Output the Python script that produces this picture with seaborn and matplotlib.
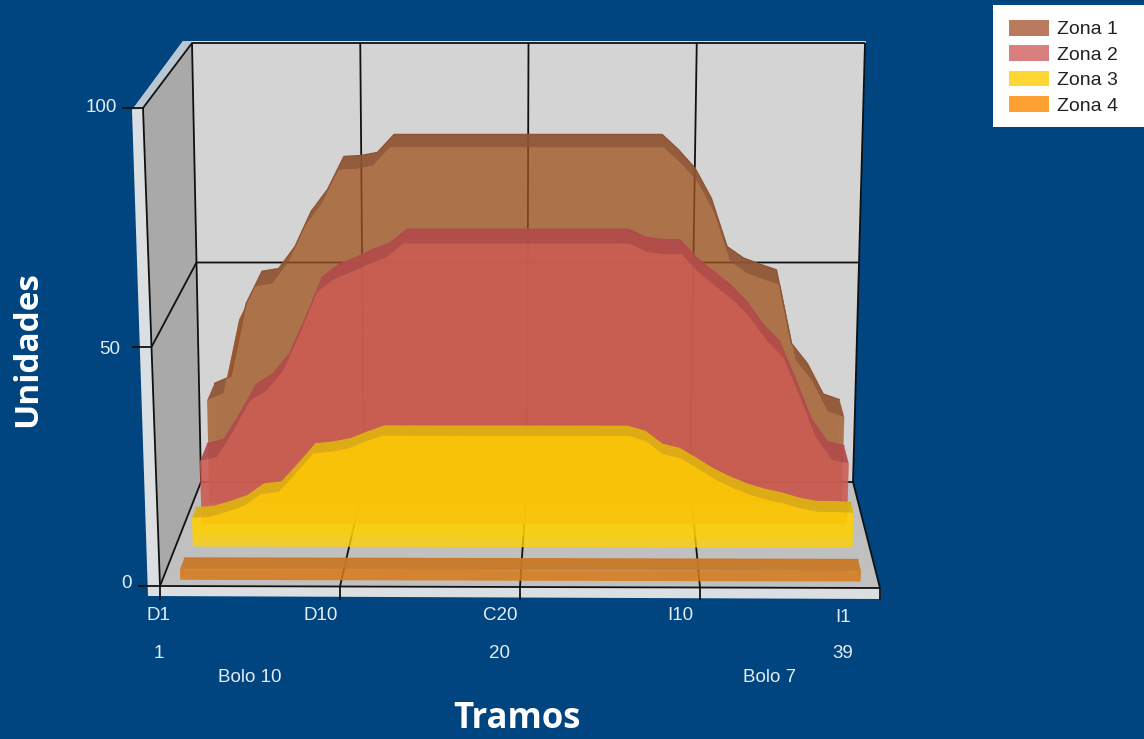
import numpy as np
import pandas as pd
import seaborn as sns
import matplotlib.pyplot as plt
from matplotlib.patches import Patch, Polygon, Rectangle

# values per tramo
tramos = list(range(1, 40))
zona_1 = [22.9, 24.5, 41, 48.4, 49, 54, 62, 67, 74.5, 74.7, 75.4, 79.5, 79.5, 79.5, 79.5, 79.5, 79.5, 79.5, 79.5, 79.5,
          79.5, 79.5, 79.5, 79.5, 79.5, 79.5, 79.5, 79.5, 76, 71.8, 65, 54, 51.4, 50, 48.7, 32, 27.4, 20.5, 19.2]
zona_2 = [13.7, 14.6, 20.4, 27, 29.3, 33.8, 42, 50.9, 53.8, 55.3, 57.1, 58.5, 61.6, 61.6, 61.6, 61.6, 61.6, 61.6, 61.6, 61.6,
          61.6, 61.6, 61.6, 61.6, 61.6, 61.6, 59.8, 59.3, 59.3, 55.3, 52.2, 49.3, 45.5, 40.4, 36.6, 28.2, 19.3, 14.2, 13.3]
zona_3 = [6.2, 6.4, 7.5, 8.8, 11.4, 11.8, 15.8, 20.1, 20.5, 21.2, 22.7, 24, 24, 24, 24, 24, 24, 24, 24, 24,
          24, 24, 24, 24, 24, 24, 22.9, 20.1, 19.2, 17, 14.7, 12.9, 11.4, 10.3, 9.5, 8.4, 7.7, 7.7, 7.5]
zona_4 = [2.2] * 39
zonas = ["Zona 1", "Zona 2", "Zona 3", "Zona 4"]
series = [zona_1, zona_2, zona_3, zona_4]
y_ticks = [0, 50, 100]
x_grid = [10, 20, 30]

navy = "#004480"
colores = ["#a0541f", "#cc5c54", "#ffd000", "#d87a18"]
leyenda = ["#b97a5e", "#d97f7f", "#ffd633", "#ffa033"]
techos = ["#8f5434", "#b04c4a", "#dcae14", "#c87a28"]
alphas = [0.62, 0.82, 0.78, 0.85]
# front and back depth of each zone on the floor
prof = [(0.80, 0.98), (0.60, 0.78), (0.38, 0.48), (0.06, 0.17)]

sns.set_theme(style="white")
plt.rcParams["font.family"] = ["Liberation Sans", "DejaVu Sans"]


def project(pos, value, depth):
    pos, value, depth = np.asarray(pos, float), np.asarray(value, float), np.asarray(depth, float)
    f = pos / 40
    t = value / 100
    left = (160 + 41 * depth) + ((143 + 49 * depth) - (160 + 41 * depth)) * t
    right = (880 - 27 * depth) + ((900 - 35 * depth) - (880 - 27 * depth)) * t
    y0 = 586 - 104 * depth + 2 * f * (1 - depth)
    y100 = 108 - 65 * depth
    return left + (right - left) * f, y0 + (y100 - y0) * t


def pt(pos, value, depth):
    x, y = project(pos, value, depth)
    return float(x), float(y)


fig = plt.figure(figsize=(11.44, 7.39), dpi=100, facecolor=navy)
ax = fig.add_axes([0, 0, 1, 1])
ax.set_xlim(0, 1144)
ax.set_ylim(739, 0)
ax.axis("off")


def poly(pts, color, alpha=1, z=1):
    ax.add_patch(Polygon(pts, closed=True, facecolor=color, alpha=alpha, zorder=z, edgecolor="none"))


# slab around the walls
poly([(132, 110), (183, 41), (866, 41), (865, 45), (192, 45), (143, 109), (160, 585), (880, 586), (881, 599), (148, 596)], "#dcdfe2", z=1)
poly([(132, 110), (183, 41), (192, 41), (143, 109)], "#b9c7d3", z=1.1)
poly([pt(0, 0, 1), pt(40, 0, 1), pt(40, 100, 1), pt(0, 100, 1)], "#d4d4d4", z=1.2)
poly([pt(0, 0, 0), pt(0, 0, 1), pt(0, 100, 1), pt(0, 100, 0)], "#a9a9a9", z=1.2)
poly([pt(0, 0, 0), pt(40, 0, 0), pt(40, 0, 1), pt(0, 0, 1)], "#c0c0c0", z=1.2)

# grid
line = dict(color="#111111", lw=1.3, zorder=1.5, solid_capstyle="butt")
for v in y_ticks:
    a, b, c = pt(0, v, 0), pt(0, v, 1), pt(40, v, 1)
    ax.plot([a[0], b[0], c[0]], [a[1], b[1], c[1]], **line)
    stub = {0: 138, 50: 132, 100: 122}[v]
    ax.plot([stub, a[0]], [a[1], a[1]], **line)
for g in x_grid:
    a, b, c = pt(g, 0, 0), pt(g, 0, 1), pt(g, 100, 1)
    ax.plot([a[0], b[0], c[0]], [a[1], b[1], c[1]], **line)
    ax.plot([a[0], a[0]], [a[1], 600], **line)
for d in (0, 1):
    a, b = pt(0, 0, d), pt(0, 100, d)
    ax.plot([a[0], b[0]], [a[1], b[1]], **line)
a, b = pt(40, 0, 1), pt(40, 100, 1)
ax.plot([a[0], b[0]], [a[1], b[1]], **line)
a, b = pt(0, 0, 0), pt(40, 0, 0)
ax.plot([a[0], b[0]], [a[1], b[1]], **line)
a, b = pt(40, 0, 0), pt(40, 0, 1)
ax.plot([a[0], b[0]], [a[1], b[1]], **line)
ax.plot([160, 160], [586, 600], **line)
ax.plot([880, 880], [588, 600], **line)

# the four zones, back to front
bordes = []
for i, (nombre, vals) in enumerate(zip(zonas, series)):
    d1, d2 = prof[i]
    z = 2 + i
    xs = np.array(tramos, float)
    vs = np.array(vals, float)
    fx, fy = project(xs, vs, d1)
    bx, by = project(xs, vs, d2)
    f0x, f0y = project(xs, 0 * vs, d1)
    b0x, b0y = project(xs, 0 * vs, d2)
    # back face
    poly(list(zip(bx, by)) + list(zip(b0x[::-1], b0y[::-1])), colores[i], alphas[i] * 0.6, z)
    # ends
    poly([(f0x[0], f0y[0]), (fx[0], fy[0]), (bx[0], by[0]), (b0x[0], b0y[0])], colores[i], alphas[i] * 0.5, z + 0.1)
    poly([(f0x[-1], f0y[-1]), (fx[-1], fy[-1]), (bx[-1], by[-1]), (b0x[-1], b0y[-1])], colores[i], alphas[i] * 0.5, z + 0.1)
    # top strip
    poly(list(zip(bx, by)) + list(zip(fx[::-1], fy[::-1])), techos[i], 0.9, z + 0.2)
    # front face
    poly(list(zip(fx, fy)) + list(zip(f0x[::-1], f0y[::-1])), colores[i], alphas[i], z + 0.3)
    bordes.append(pd.DataFrame({"x": bx, "y": by, "zona": nombre}))

df_bordes = pd.concat(bordes)
sns.lineplot(data=df_bordes, x="x", y="y", hue="zona", palette=dict(zip(zonas, techos)), estimator=None, sort=False,
             legend=False, lw=1, ax=ax, zorder=7)
ax.set_xlim(0, 1144)
ax.set_ylim(739, 0)
ax.axis("off")

# axis text
txt = dict(color="#e4edf4", fontsize=13.5, ha="center", va="center")
for s, x, y in [("100", 101, 108), ("50", 110, 350), ("0", 127, 583), ("D1", 158, 616), ("D10", 321, 615), ("C20", 500, 616),
                ("I10", 680, 616), ("I1", 843, 618), ("1", 159, 654), ("20", 500, 654), ("39", 843, 654),
                ("Bolo 10", 250, 677), ("Bolo 7", 770, 677)]:
    ax.text(x, y, s, **txt)
ax.text(517, 719, "Tramos", color="white", fontsize=25, fontweight="bold", ha="center", va="center", family="Open Sans")
ax.text(28, 349, "Unidades", color="white", fontsize=24, fontweight="bold", ha="center", va="center", rotation=90, family="Open Sans")

ax.add_patch(Rectangle((993, 5), 151, 122, facecolor="white", edgecolor="none", zorder=19))
handles = [Patch(facecolor=c, edgecolor="none", label=n) for c, n in zip(leyenda, zonas)]
leg = ax.legend(handles=handles, loc="upper left", bbox_to_anchor=(1009 / 1144, 1 - 20 / 739), borderaxespad=0, frameon=False,
                fontsize=14, handlelength=2.06, handleheight=0.85, labelspacing=0.36, handletextpad=0.4, borderpad=0,
                labelcolor="#222222")
leg.set_zorder(20)

fig.savefig("out.png", dpi=100, facecolor=navy)
